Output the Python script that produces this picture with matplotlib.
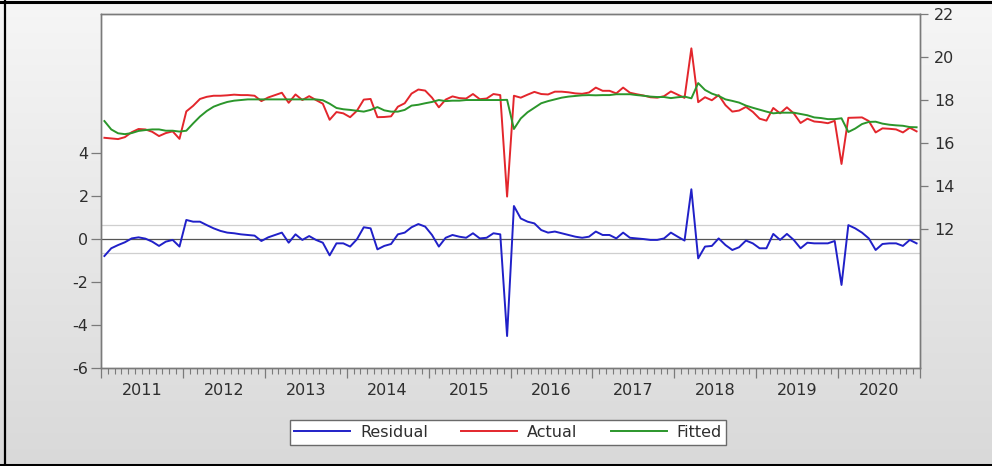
import numpy as np
import matplotlib
matplotlib.use("Agg")
import matplotlib.pyplot as plt
from matplotlib.colors import LinearSegmentedColormap
from matplotlib.lines import Line2D
from matplotlib.ticker import FuncFormatter

# Monthly observations, 2011M01 - 2020M12
years = list(range(2011, 2021))

actual = [
    16.23, 16.20, 16.17, 16.26, 16.49, 16.64, 16.62, 16.51, 16.31, 16.45, 16.53, 16.18,
    17.46, 17.72, 18.04, 18.14, 18.19, 18.19, 18.21, 18.24, 18.22, 18.22, 18.19, 17.94,
    18.11, 18.22, 18.33, 17.86, 18.25, 17.99, 18.17, 17.99, 17.82, 17.07, 17.43, 17.37,
    17.19, 17.49, 18.01, 18.04, 17.19, 17.20, 17.23, 17.68, 17.84, 18.29, 18.48, 18.43,
    18.10, 17.65, 18.01, 18.16, 18.08, 18.06, 18.27, 18.03, 18.06, 18.27, 18.22, 13.49,
    18.19, 18.10, 18.24, 18.37, 18.27, 18.25, 18.38, 18.38, 18.35, 18.30, 18.28, 18.34,
    18.57, 18.42, 18.42, 18.30, 18.57, 18.33, 18.26, 18.20, 18.12, 18.10, 18.17, 18.39,
    18.24, 18.09, 20.40, 17.89, 18.12, 17.98, 18.22, 17.75, 17.45, 17.50, 17.67, 17.44,
    17.12, 17.03, 17.62, 17.37, 17.65, 17.37, 16.92, 17.12, 16.99, 16.96, 16.91, 17.02,
    15.01, 17.16, 17.17, 17.18, 17.01, 16.48, 16.67, 16.65, 16.62, 16.48, 16.70, 16.53,
]

fitted = [
    17.01, 16.62, 16.44, 16.40, 16.45, 16.55, 16.59, 16.62, 16.62, 16.56, 16.56, 16.52,
    16.56, 16.90, 17.22, 17.48, 17.68, 17.80, 17.90, 17.96, 17.99, 18.02, 18.02, 18.02,
    18.02, 18.02, 18.02, 18.02, 18.02, 18.02, 18.02, 18.02, 17.98, 17.82, 17.62, 17.56,
    17.53, 17.49, 17.45, 17.53, 17.66, 17.51, 17.45, 17.45, 17.53, 17.73, 17.77, 17.84,
    17.90, 17.99, 17.94, 17.96, 17.96, 17.99, 17.99, 17.99, 17.99, 17.99, 17.99, 18.00,
    16.64, 17.13, 17.42, 17.63, 17.84, 17.94, 18.02, 18.10, 18.15, 18.18, 18.21, 18.22,
    18.21, 18.22, 18.22, 18.26, 18.26, 18.26, 18.22, 18.19, 18.15, 18.13, 18.13, 18.08,
    18.12, 18.15, 18.07, 18.78, 18.46, 18.29, 18.18, 18.02, 17.95, 17.87, 17.73, 17.63,
    17.54, 17.45, 17.37, 17.40, 17.40, 17.40, 17.34, 17.28, 17.18, 17.15, 17.10, 17.10,
    17.14, 16.50, 16.66, 16.87, 16.97, 16.98, 16.89, 16.84, 16.81, 16.79, 16.73, 16.72,
]

residual = [
    -0.78, -0.42, -0.27, -0.14, 0.04, 0.09, 0.03, -0.11, -0.31, -0.11, -0.03, -0.34,
    0.90, 0.82, 0.82, 0.66, 0.51, 0.39, 0.31, 0.28, 0.23, 0.20, 0.17, -0.08,
    0.09, 0.20, 0.31, -0.16, 0.23, -0.03, 0.15, -0.03, -0.16, -0.75, -0.19, -0.19,
    -0.34, 0.00, 0.56, 0.51, -0.47, -0.31, -0.22, 0.23, 0.31, 0.56, 0.71, 0.59,
    0.20, -0.34, 0.07, 0.20, 0.12, 0.07, 0.28, 0.04, 0.07, 0.28, 0.23, -4.51,
    1.55, 0.97, 0.82, 0.74, 0.43, 0.31, 0.36, 0.28, 0.20, 0.12, 0.07, 0.12,
    0.36, 0.20, 0.20, 0.04, 0.31, 0.07, 0.04, 0.01, -0.03, -0.03, 0.04, 0.31,
    0.12, -0.06, 2.33, -0.89, -0.34, -0.31, 0.04, -0.27, -0.50, -0.37, -0.06, -0.19,
    -0.42, -0.42, 0.25, -0.03, 0.25, -0.03, -0.42, -0.16, -0.19, -0.19, -0.19, -0.08,
    -2.13, 0.66, 0.51, 0.31, 0.04, -0.50, -0.22, -0.19, -0.19, -0.31, -0.03, -0.19,
]

se_band = 0.65  # standard error of the regression

series_names = ["Residual", "Actual", "Fitted"]
colors = {"Residual": "#2020c8", "Actual": "#e3262c", "Fitted": "#2b962b"}

plt.rcParams["font.family"] = ["DejaVu Sans"]
plt.rcParams["axes.unicode_minus"] = False
text_color = "#2e2e2e"
frame_color = "#7a7a7a"

W, H = 992, 466
fig = plt.figure(figsize=(W / 100, H / 100), dpi=100)

# soft grey window background
bg = fig.add_axes([0, 0, 1, 1], zorder=-10)
grad = np.linspace(0, 1, 256).reshape(-1, 1)
bg.imshow(grad, aspect="auto", extent=[0, 1, 0, 1], origin="upper",
          cmap=LinearSegmentedColormap.from_list("win", ["#f6f6f6", "#d9d9d9"]))
bg.set_axis_off()

# plot frame in pixel coordinates
left_px, right_px, top_px, bottom_px = 101, 920, 14, 368
ax = fig.add_axes([left_px / W, 1 - bottom_px / H,
                   (right_px - left_px) / W, (bottom_px - top_px) / H])
ax.set_facecolor("white")

n = len(actual)
x = np.arange(n) + 0.5

ax.axhline(se_band, color="#cfcfcf", lw=0.9, zorder=1)
ax.axhline(-se_band, color="#cfcfcf", lw=0.9, zorder=1)
ax.axhline(0, color="#555555", lw=0.9, zorder=1)
l_res, = ax.plot(x, residual, color=colors["Residual"], lw=1.4, zorder=3)
ax.set_xlim(0, n)
ax.set_ylim(-6, 10.5)
ax.set_yticks([-6, -4, -2, 0, 2, 4])

ax2 = ax.twinx()
l_act, = ax2.plot(x, actual, color=colors["Actual"], lw=1.4)
l_fit, = ax2.plot(x, fitted, color=colors["Fitted"], lw=1.4)
ax2.set_ylim(5.5, 22)
ax2.set_yticks(list(range(12, 23, 2)))

# year boundaries as major ticks, months as minor ticks carrying the year labels
ax.set_xticks(np.arange(0, n + 1, 12))
ax.set_xticks(np.arange(0, n + 1), minor=True)
ax.xaxis.set_major_formatter(FuncFormatter(lambda v, p: ""))
ax.xaxis.set_minor_formatter(FuncFormatter(
    lambda v, p: str(years[int(round(v)) // 12]) if int(round(v)) % 12 == 6 and int(round(v)) < n else ""))

ax.tick_params(axis="x", which="major", length=7, width=0.9, color=frame_color, direction="out")
ax.tick_params(axis="x", which="minor", length=4, width=0.8, color=frame_color, direction="out",
               pad=7, labelsize=11.5, labelcolor=text_color)
ax.tick_params(axis="y", length=7, width=0.9, color=frame_color, direction="out",
               pad=2, labelsize=11.5, labelcolor=text_color)
ax2.tick_params(axis="y", length=6, width=0.9, color=frame_color, direction="out",
                pad=4, labelsize=11.5, labelcolor=text_color)

for a in (ax, ax2):
    for s in a.spines.values():
        s.set_color(frame_color)
        s.set_linewidth(1.0)

leg = fig.legend([l_res, l_act, l_fit], series_names, loc="center",
                 bbox_to_anchor=(508 / W, 1 - 432.5 / H), ncol=3, frameon=True,
                 fancybox=False, edgecolor="#6a6a6a", facecolor="white", framealpha=1,
                 fontsize=11.5, handlelength=3.5, handletextpad=0.6, columnspacing=2.1,
                 borderpad=0.3, borderaxespad=0, labelcolor=text_color)
leg.get_frame().set_linewidth(1.0)

# window border
fig.add_artist(Line2D([0, 1], [1 - 1.5 / H] * 2, transform=fig.transFigure, color="black", lw=2.2))
fig.add_artist(Line2D([0, 1], [1.5 / H] * 2, transform=fig.transFigure, color="black", lw=2.2))
fig.add_artist(Line2D([5 / W] * 2, [0, 1], transform=fig.transFigure, color="black", lw=1.6))

fig.savefig("out.png", dpi=100)
